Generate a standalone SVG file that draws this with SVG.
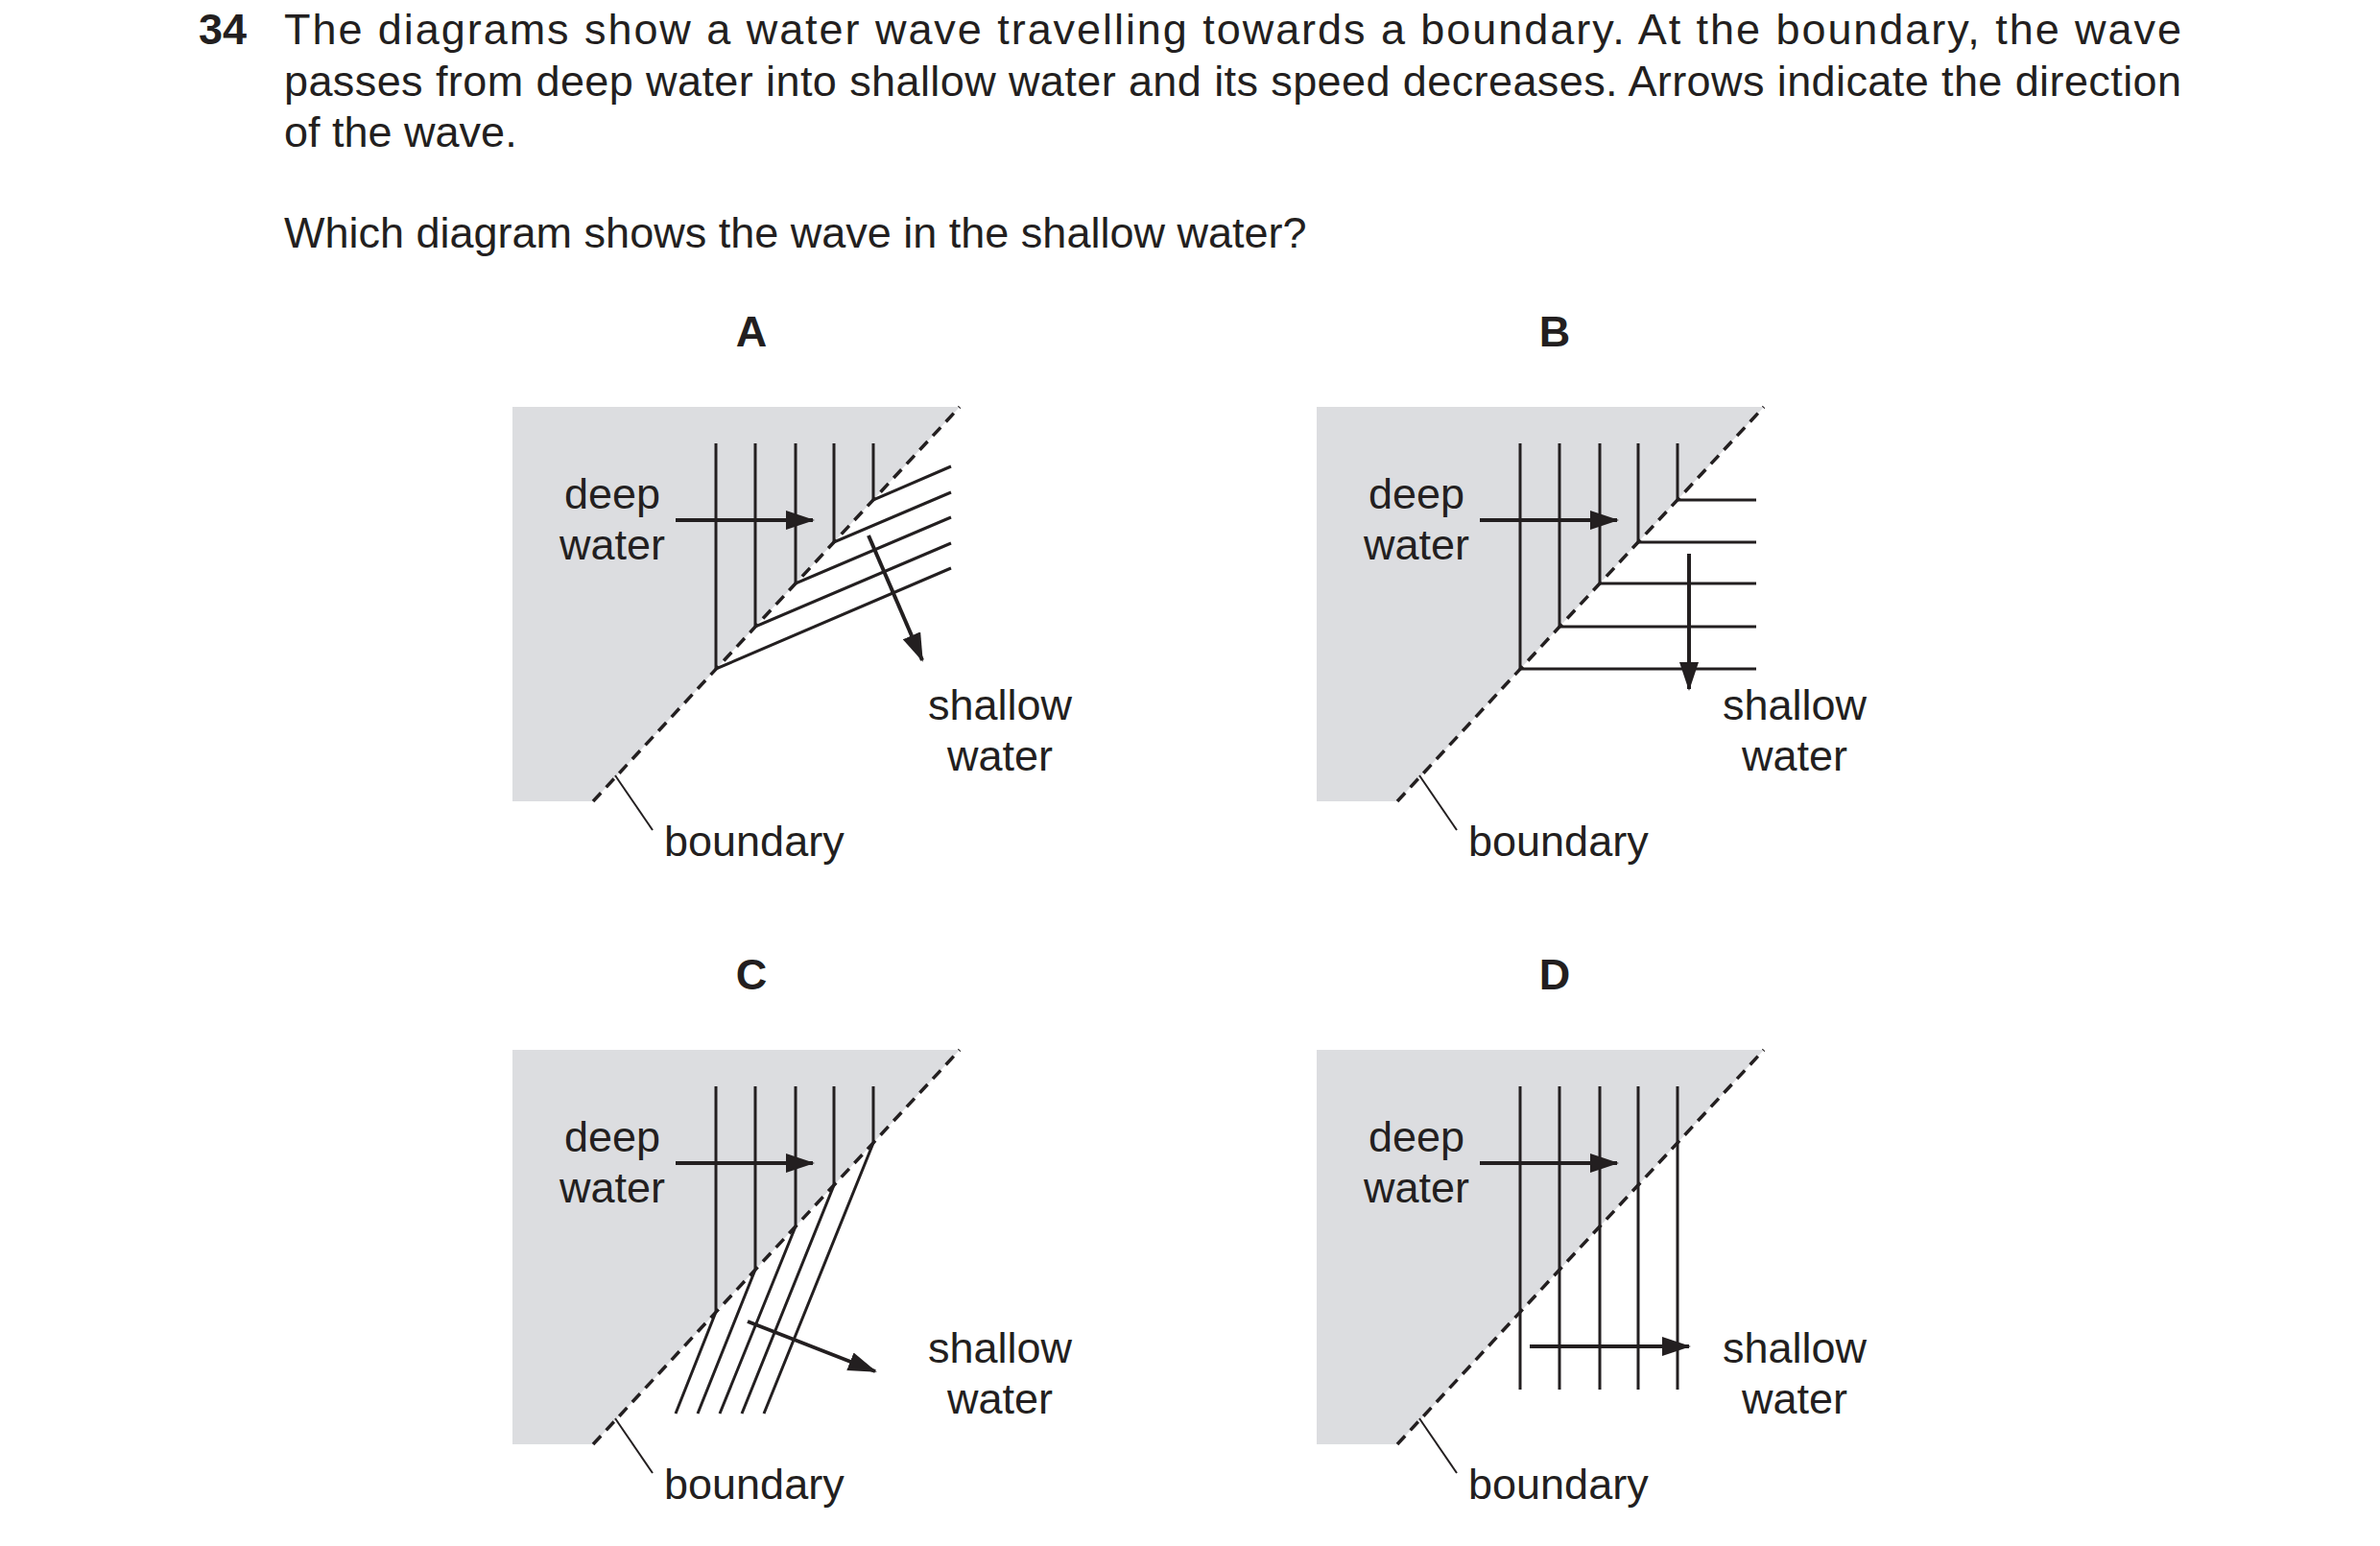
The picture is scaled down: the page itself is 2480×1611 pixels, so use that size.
<svg xmlns="http://www.w3.org/2000/svg" width="2480" height="1611" viewBox="0 0 2480 1611">
<defs>
<style>
text{font-family:"Liberation Sans",Arial,sans-serif;font-size:45px;fill:#231f20}
.b{font-weight:bold}
.m{text-anchor:middle}
.g{fill:#dcdde0}
.bd{stroke:#231f20;stroke-width:3.5;stroke-dasharray:12 8;fill:none}
.w{stroke:#231f20;stroke-width:3;fill:none}
.ar{stroke:#231f20;stroke-width:4;fill:none;marker-end:url(#ah)}
.ld{stroke:#231f20;stroke-width:2;fill:none}
</style>
<marker id="ah" markerUnits="userSpaceOnUse" markerWidth="30" markerHeight="20" refX="28" refY="10" orient="auto" viewBox="0 0 30 20"><path d="M0,0 L30,10 L0,20 z" fill="#231f20"/></marker>
</defs>
<g id="question">
<text x="207" y="46" class="b">34</text>
<text x="296" y="46" textLength="1977" lengthAdjust="spacing">The diagrams show a water wave travelling towards a boundary. At the boundary, the wave</text>
<text x="296" y="100" textLength="1977" lengthAdjust="spacing">passes from deep water into shallow water and its speed decreases. Arrows indicate the direction</text>
<text x="296" y="153">of the wave.</text>
<text x="296" y="258">Which diagram shows the wave in the shallow water?</text>
</g>
<g id="panelA">
<text x="783" y="361" class="b m">A</text>
<polygon class="g" points="534,424 1000,424 618,835 534,835"/>
<line class="bd" x1="618" y1="835" x2="1000" y2="424"/>
<text x="638" y="530" class="m">deep</text><text x="638" y="583" class="m">water</text>
<text x="1042" y="750" class="m">shallow</text><text x="1042" y="803" class="m">water</text>
<line class="ld" x1="641" y1="808" x2="680" y2="865"/>
<text x="692" y="892">boundary</text>
<g id="wavesA">
<path class="w" d="M746,462V697L991,592M787,462V653L991,566M829,462V608L991,539M869,462V565L991,513M910,462V521L991,486"/>
<line class="ar" x1="704" y1="542" x2="847" y2="542"/>
<line class="ar" x1="905" y1="558" x2="961" y2="688"/>
</g>
</g>
<g id="panelB">
<text x="1620" y="361" class="b m">B</text>
<g transform="translate(838,0)">
<polygon class="g" points="534,424 1000,424 618,835 534,835"/>
<line class="bd" x1="618" y1="835" x2="1000" y2="424"/>
<text x="638" y="530" class="m">deep</text><text x="638" y="583" class="m">water</text>
<text x="1032" y="750" class="m">shallow</text><text x="1032" y="803" class="m">water</text>
<line class="ld" x1="641" y1="808" x2="680" y2="865"/>
<text x="692" y="892">boundary</text>
<path class="w" d="M746,462V697H992M787,462V653H992M829,462V608H992M869,462V565H992M910,462V521H992"/>
<line class="ar" x1="704" y1="542" x2="847" y2="542"/>
<line class="ar" x1="922" y1="577" x2="922" y2="718"/>
</g>
</g>
<g id="panelC">
<text x="783" y="1031" class="b m">C</text>
<g transform="translate(0,670)">
<polygon class="g" points="534,424 1000,424 618,835 534,835"/>
<line class="bd" x1="618" y1="835" x2="1000" y2="424"/>
<text x="638" y="530" class="m">deep</text><text x="638" y="583" class="m">water</text>
<text x="1042" y="750" class="m">shallow</text><text x="1042" y="803" class="m">water</text>
<line class="ld" x1="641" y1="808" x2="680" y2="865"/>
<text x="692" y="892">boundary</text>
<path class="w" d="M746,462V697L704,803M787,462V653L727,803M829,462V608L750,803M869,462V565L773,803M910,462V521L796,803"/>
<line class="ar" x1="704" y1="542" x2="847" y2="542"/>
<line class="ar" x1="779" y1="707" x2="912" y2="759"/>
</g>
</g>
<g id="panelD">
<text x="1620" y="1031" class="b m">D</text>
<g transform="translate(838,670)">
<polygon class="g" points="534,424 1000,424 618,835 534,835"/>
<line class="bd" x1="618" y1="835" x2="1000" y2="424"/>
<text x="638" y="530" class="m">deep</text><text x="638" y="583" class="m">water</text>
<text x="1032" y="750" class="m">shallow</text><text x="1032" y="803" class="m">water</text>
<line class="ld" x1="641" y1="808" x2="680" y2="865"/>
<text x="692" y="892">boundary</text>
<path class="w" d="M746,462V778M787,462V778M829,462V778M869,462V778M910,462V778"/>
<line class="ar" x1="704" y1="542" x2="847" y2="542"/>
<line class="ar" x1="756" y1="733" x2="922" y2="733"/>
</g>
</g>
</svg>
